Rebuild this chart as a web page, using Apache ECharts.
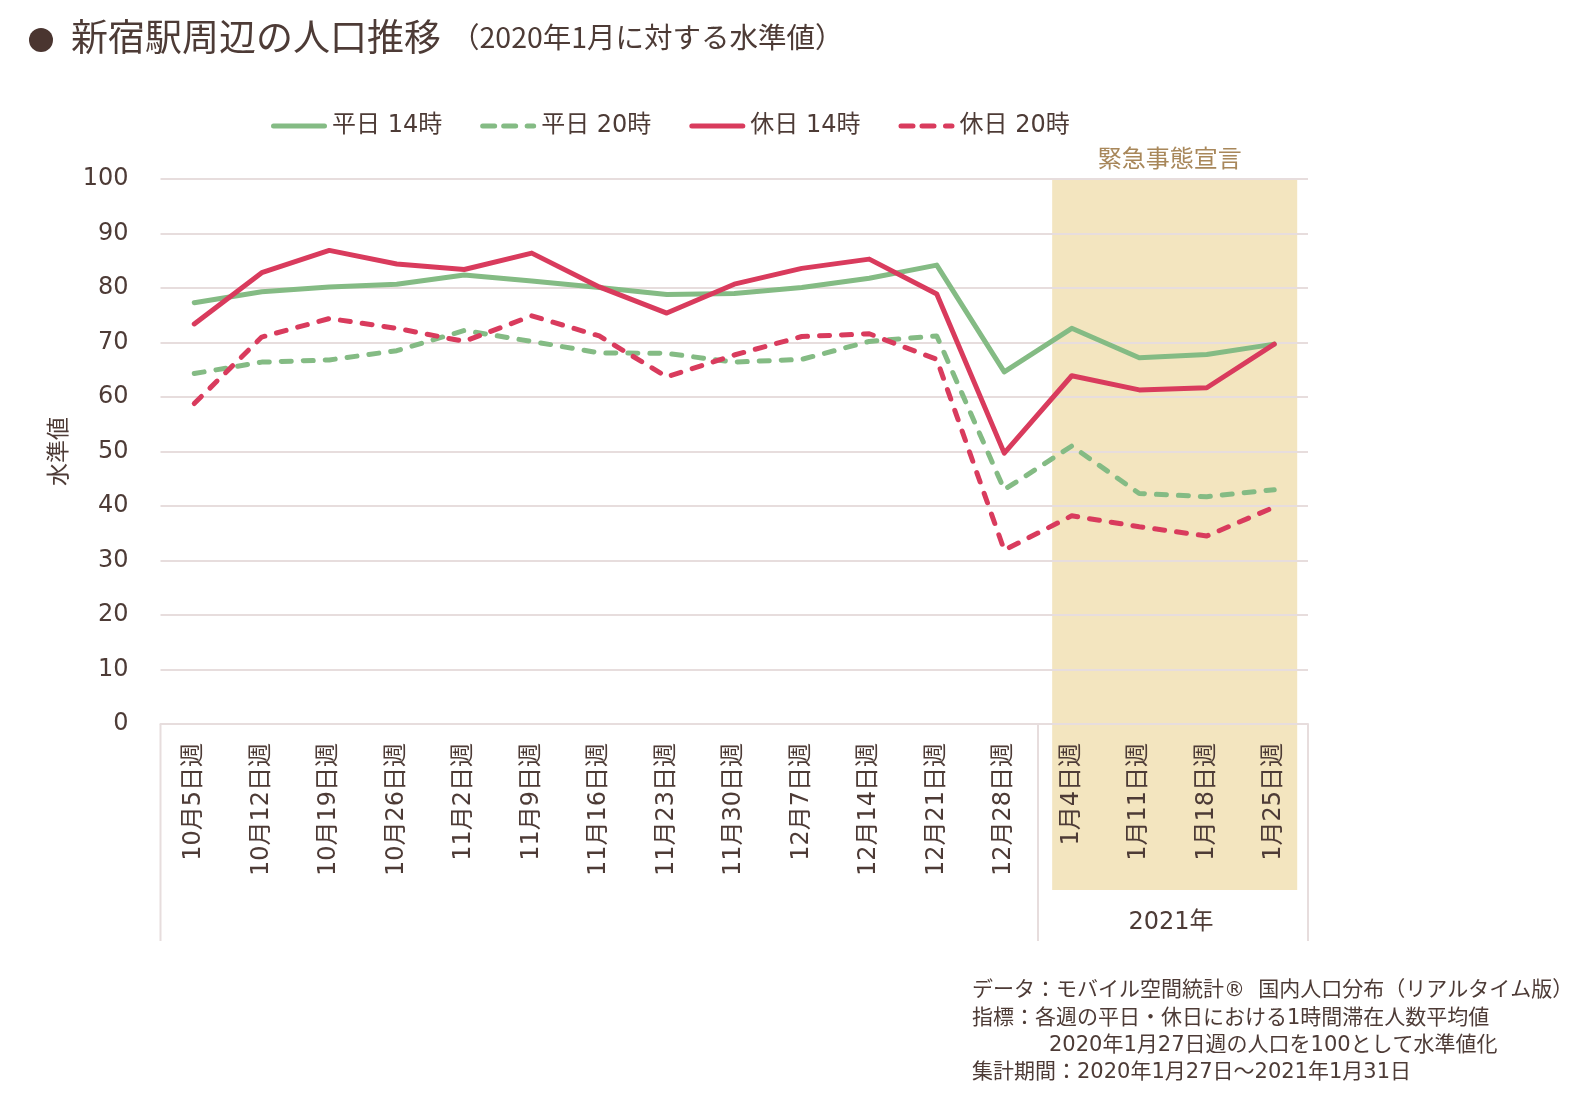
<!DOCTYPE html>
<html>
<head>
<meta charset="utf-8">
<script src="https://cdn.jsdelivr.net/npm/echarts@6/dist/echarts.min.js"></script>
<style>
html,body{margin:0;padding:0;background:#fff;}
#chart{width:1578px;height:1100px;}
</style>
</head>
<body>
<div id="chart"></div>
<script>
const categories = ['10月5日週','10月12日週','10月19日週','10月26日週','11月2日週','11月9日週','11月16日週','11月23日週','11月30日週','12月7日週','12月14日週','12月21日週','12月28日週','1月4日週','1月11日週','1月18日週','1月25日週'];
const weekday14 = [77.3,79.3,80.2,80.7,82.4,81.3,80.1,78.8,79.0,80.1,81.8,84.2,64.6,72.6,67.2,67.8,69.7];
const weekday20 = [64.3,66.4,66.8,68.5,72.2,70.2,68.1,68.0,66.4,66.9,70.2,71.2,43.0,51.0,42.3,41.7,43.0];
const holiday14 = [73.4,82.8,86.9,84.4,83.4,86.4,80.2,75.4,80.7,83.6,85.3,78.9,49.7,63.9,61.3,61.7,69.7];
const holiday20 = [58.8,71.0,74.4,72.6,70.2,74.9,71.2,63.7,67.7,71.1,71.6,66.9,31.9,38.2,36.2,34.5,39.8];
const seriesNames = ['平日 14時','平日 20時','休日 14時','休日 20時'];
const emergencyStart = '1月4日週';
const emergencyEnd = '1月25日週';
const emergencyLabel = '緊急事態宣言';
const yearLabel = '2021年';

const TEXT = '#4d3b36';
const GREEN = '#84bb84';
const RED = '#d93b5d';
const GRIDC = '#e7dddd';
const FONT = "'DejaVu Sans','Noto Sans CJK JP',sans-serif";
const JFONT = "'Noto Sans CJK JP',sans-serif";
const SOLID_ICON = 'path://M2.5,0H53.5A2.5,2.5,0,0,1,53.5,5H2.5A2.5,2.5,0,0,1,2.5,0Z';
const DASH_ICON = 'path://M2.5,0H14.5A2.5,2.5,0,0,1,14.5,5H2.5A2.5,2.5,0,0,1,2.5,0Z M23.5,0H35.5A2.5,2.5,0,0,1,35.5,5H23.5A2.5,2.5,0,0,1,23.5,0Z M47,0H53.5A2.5,2.5,0,0,1,53.5,5H47A2.5,2.5,0,0,1,47,0Z';

const chart = echarts.init(document.getElementById('chart'));

function lineSeries(name, data, color, dashed) {
  return {
    name: name, type: 'line', data: data,
    symbol: 'none', showSymbol: false, z: 5,
    lineStyle: { color: color, width: 5, type: dashed ? [10, 12] : 'solid', cap: 'round', join: 'round' },
    itemStyle: { color: color }
  };
}

const option = {
  animation: false,
  backgroundColor: '#ffffff',
  grid: { left: 160.5, right: 270, top: 179, bottom: 376 },
  legend: {
    data: [
      { name: seriesNames[0], icon: SOLID_ICON, itemStyle: { color: GREEN } },
      { name: seriesNames[1], icon: DASH_ICON, itemStyle: { color: GREEN } },
      { name: seriesNames[2], icon: SOLID_ICON, itemStyle: { color: RED } },
      { name: seriesNames[3], icon: DASH_ICON, itemStyle: { color: RED } }
    ],
    left: 266, top: 109,
    itemWidth: 56, itemHeight: 5, itemGap: 38,
    textStyle: { color: TEXT, fontSize: 24, fontFamily: FONT }
  },
  xAxis: {
    type: 'category', data: categories, boundaryGap: true,
    axisLine: { lineStyle: { color: GRIDC, width: 2 } },
    axisTick: { show: false },
    axisLabel: { rotate: 90, interval: 0, margin: 19, color: TEXT, fontSize: 24, fontFamily: FONT }
  },
  yAxis: {
    type: 'value', min: 0, max: 100, interval: 10,
    name: '水準値', nameLocation: 'middle', nameGap: 92, nameRotate: 90,
    nameTextStyle: { color: TEXT, fontSize: 23, fontFamily: JFONT },
    axisLine: { show: false }, axisTick: { show: false },
    axisLabel: { color: TEXT, fontSize: 24, fontFamily: FONT, margin: 32 },
    splitLine: { lineStyle: { color: GRIDC, width: 2 } }
  },
  series: [
    {
      type: 'custom', name: 'band', z: -1, silent: true, clip: false,
      data: [[emergencyStart, 100]],
      renderItem: function (params, api) {
        const bw = api.size([1, 0])[0];
        const pStart = api.coord([emergencyStart, 100]);
        const pEnd = api.coord([emergencyEnd, 0]);
        const pFirst = api.coord([categories[0], 0]);
        const pLast = api.coord([categories[categories.length - 1], 0]);
        const x0 = pStart[0] - bw * 0.29;
        const x1 = pEnd[0] + bw * 0.34;
        const yTop = pStart[1];
        const yAxis = pEnd[1];
        const sepBottom = yAxis + 217;
        const sepXs = [pFirst[0] - bw / 2, pStart[0] - bw / 2, pLast[0] + bw / 2];
        const children = [
          { type: 'rect', shape: { x: x0, y: yTop, width: x1 - x0, height: yAxis + 166 - yTop }, style: { fill: '#f3e5bf' } },
          { type: 'text', style: { text: emergencyLabel, x: (x0 + x1) / 2 - 5, y: yTop - 21, align: 'center', verticalAlign: 'middle', fill: '#a8875a', fontSize: 24, fontFamily: JFONT } },
          { type: 'text', style: { text: yearLabel, x: (sepXs[1] + sepXs[2]) / 2 - 2, y: yAxis + 199, align: 'center', verticalAlign: 'middle', fill: TEXT, fontSize: 24, fontFamily: FONT } }
        ];
        sepXs.forEach(function (sx) {
          children.push({ type: 'line', shape: { x1: sx, y1: yAxis, x2: sx, y2: sepBottom }, style: { stroke: GRIDC, lineWidth: 2 } });
        });
        return { type: 'group', children: children };
      }
    },
    lineSeries(seriesNames[0], weekday14, GREEN, false),
    lineSeries(seriesNames[1], weekday20, GREEN, true),
    lineSeries(seriesNames[2], holiday14, RED, false),
    lineSeries(seriesNames[3], holiday20, RED, true)
  ],
  graphic: [
    { type: 'circle', shape: { cx: 41, cy: 40, r: 12 }, style: { fill: '#4a3530' } },
    { type: 'text', left: 71, top: 18, style: { text: '新宿駅周辺の人口推移', fill: TEXT, fontSize: 37, fontFamily: JFONT } },
    { type: 'text', left: 451, top: 23, style: { text: '（2020年1月に対する水準値）', fill: TEXT, fontSize: 28.5, fontFamily: JFONT } },
    { type: 'text', left: 972, top: 980, style: { text: 'データ：モバイル空間統計®  国内人口分布（リアルタイム版）', fill: TEXT, fontSize: 21, fontFamily: FONT } },
    { type: 'text', left: 972, top: 1008, style: { text: '指標：各週の平日・休日における1時間滞在人数平均値', fill: TEXT, fontSize: 21, fontFamily: FONT } },
    { type: 'text', left: 1049, top: 1035, style: { text: '2020年1月27日週の人口を100として水準値化', fill: TEXT, fontSize: 21, fontFamily: FONT } },
    { type: 'text', left: 972, top: 1062, style: { text: '集計期間：2020年1月27日～2021年1月31日', fill: TEXT, fontSize: 21, fontFamily: FONT } }
  ]
};
chart.setOption(option);
</script>
</body>
</html>
